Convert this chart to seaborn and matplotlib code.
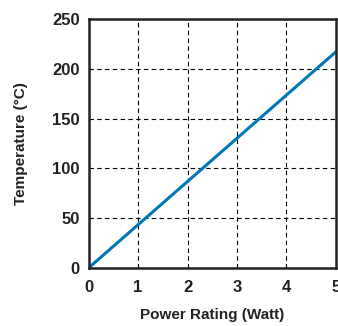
import matplotlib
matplotlib.use("Agg")
import matplotlib.pyplot as plt
import seaborn as sns
import pandas as pd

# datos
power_watt = [0, 5]
temperature_c = [0, 217]
x_ticks = [0, 1, 2, 3, 4, 5]
y_ticks = [0, 50, 100, 150, 200, 250]

sns.set_style("white")
plt.rcParams['font.family'] = ['Liberation Sans', 'DejaVu Sans']
plt.rcParams['font.weight'] = 'bold'

df = pd.DataFrame({'power': power_watt, 'temp': temperature_c})

fig = plt.figure(figsize=(3.38, 3.26), dpi=100)
ax = fig.add_axes([0.262, 0.178, 0.732, 0.764])

sns.lineplot(data=df, x='power', y='temp', ax=ax, color='#0077b6', linewidth=2.2)

ax.set_xlim(0, 5)
ax.set_ylim(0, 250)
ax.set_xticks(x_ticks)
ax.set_yticks(y_ticks)
ax.grid(True, linestyle=(0, (4, 3)), color='black', linewidth=0.8)
for s in ax.spines.values():
    s.set_color('#222222')
    s.set_linewidth(1.8)
    s.set_visible(True)

ax.tick_params(axis='y', length=4, width=0.8, direction='out', labelsize=12, pad=2.5)
ax.tick_params(axis='x', length=0, labelsize=12, pad=9)
for lab in ax.get_xticklabels() + ax.get_yticklabels():
    lab.set_fontweight('bold')
    lab.set_color('#222222')

ax.set_xlabel('Power Rating (Watt)', fontsize=11, fontweight='bold', color='#222222', labelpad=9)
ax.set_ylabel('Temperature (°C)', fontsize=11, fontweight='bold', color='#222222', labelpad=17)

fig.savefig('out.png', dpi=100)
plt.close(fig)
